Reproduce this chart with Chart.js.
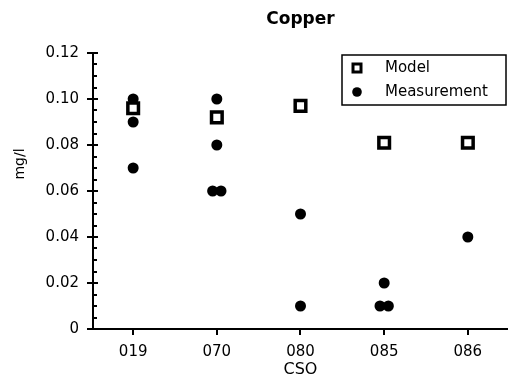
<!DOCTYPE html>
<html>
<head>
<meta charset="utf-8">
<script src="https://cdn.jsdelivr.net/npm/chart.js@4/dist/chart.umd.min.js"></script>
<style>
  html, body { margin: 0; padding: 0; background: #fff; }
  #wrap { width: 508px; height: 387px; }
</style>
</head>
<body>
<div id="wrap"><canvas id="c" width="508" height="387"></canvas></div>
<script>
// Copper concentration per CSO site: model values and field measurements
const categories = ['019', '070', '080', '085', '086'];
const modelValues = [0.096, 0.092, 0.097, 0.081, 0.081];
const measurementSite = ['019', '019', '019', '070', '070', '070', '070', '080', '080', '085', '085', '085', '086'];
const measurementValues = [0.100, 0.090, 0.070, 0.100, 0.080, 0.060, 0.060, 0.050, 0.010, 0.020, 0.010, 0.010, 0.040];
const yTicks = [0, 0.02, 0.04, 0.06, 0.08, 0.10, 0.12];

const chartTitle = 'Copper';
const xTitle = 'CSO';
const yTitle = 'mg/l';

const FONT = '"DejaVu Sans", sans-serif';

// Model points sit on the category centres
const modelPoints = modelValues.map((v, i) => ({ x: i, y: v }));

// Measurements with identical values at one site are dodged sideways so both stay visible
const measurementPoints = (() => {
  const groups = {};
  measurementSite.forEach((s, i) => {
    const key = s + '|' + measurementValues[i].toFixed(4);
    (groups[key] = groups[key] || []).push(i);
  });
  const pts = [];
  Object.values(groups).forEach(idx => {
    const n = idx.length;
    idx.forEach((i, k) => {
      const shift = n > 1 ? (k - (n - 1) / 2) * 0.1 : 0;
      pts.push({ x: categories.indexOf(measurementSite[i]) + shift, y: measurementValues[i] });
    });
  });
  return pts;
})();

// Inner halves of the major y ticks plus minor ticks every 0.005
const axisExtras = {
  id: 'axisExtras',
  afterDraw(chart) {
    const ctx = chart.ctx;
    const y = chart.scales.y;
    const x0 = chart.chartArea.left;
    ctx.save();
    ctx.strokeStyle = '#000';
    ctx.lineWidth = 2;
    for (let k = 0; k <= 24; k++) {
      const v = k * 0.005;
      const py = Math.round(y.getPixelForValue(v));
      const len = (k % 4 === 0) ? 5 : 4;
      ctx.beginPath();
      ctx.moveTo(x0, py);
      ctx.lineTo(x0 + len, py);
      ctx.stroke();
    }
    ctx.restore();
  }
};

// Title, axis titles and boxed legend
const annotations = {
  id: 'annotations',
  afterDraw(chart) {
    const ctx = chart.ctx;
    const a = chart.chartArea;
    const cx = (a.left + a.right) / 2;
    ctx.save();
    ctx.fillStyle = '#000';
    ctx.textAlign = 'center';
    ctx.textBaseline = 'alphabetic';
    ctx.font = 'bold 17px ' + FONT;
    ctx.fillText(chartTitle, cx, 24);
    ctx.font = '16px ' + FONT;
    ctx.fillText(xTitle, cx, 374);
    ctx.save();
    ctx.translate(20, 164);
    ctx.rotate(-Math.PI / 2);
    ctx.textBaseline = 'middle';
    ctx.font = '14px ' + FONT;
    ctx.fillText(yTitle, 0, 0);
    ctx.restore();

    // legend box
    const lw = 164, lh = 50;
    const lx = a.right - lw - 2, ly = a.top + 2;
    ctx.lineWidth = 1.5;
    ctx.strokeStyle = '#000';
    ctx.fillStyle = '#fff';
    ctx.fillRect(lx, ly, lw, lh);
    ctx.strokeRect(lx, ly, lw, lh);
    const ds = chart.data.datasets;
    const rows = [ly + 13, ly + 37];
    ds.forEach((d, i) => {
      const iy = rows[i];
      const ix = lx + 15;
      ctx.save();
      if (d.pointStyle === 'rect') {
        const s = 8;
        ctx.fillStyle = d.backgroundColor;
        ctx.strokeStyle = d.borderColor;
        ctx.lineWidth = 3;
        ctx.fillRect(ix - s / 2, iy - s / 2, s, s);
        ctx.strokeRect(ix - s / 2, iy - s / 2, s, s);
      } else {
        ctx.fillStyle = d.backgroundColor;
        ctx.beginPath();
        ctx.arc(ix, iy, 4.8, 0, Math.PI * 2);
        ctx.fill();
      }
      ctx.restore();
      ctx.fillStyle = '#000';
      ctx.textAlign = 'left';
      ctx.textBaseline = 'middle';
      ctx.font = '15px ' + FONT;
      ctx.fillText(d.label, lx + 43, iy);
    });
    ctx.restore();
  }
};

new Chart(document.getElementById('c'), {
  type: 'scatter',
  data: {
    datasets: [
      {
        label: 'Model',
        data: modelPoints,
        pointStyle: 'rect',
        pointRadius: 7.5,
        pointBorderWidth: 3.5,
        backgroundColor: '#fff',
        borderColor: '#000'
      },
      {
        label: 'Measurement',
        data: measurementPoints,
        pointStyle: 'circle',
        pointRadius: 5.5,
        pointBorderWidth: 0,
        backgroundColor: '#000',
        borderColor: '#000'
      }
    ]
  },
  options: {
    responsive: false,
    animation: false,
    devicePixelRatio: 1,
    layout: { autoPadding: false, padding: { top: 53, right: 0, left: 0, bottom: 0 } },
    plugins: {
      legend: { display: false },
      title: { display: false },
      tooltip: { enabled: false }
    },
    scales: {
      x: {
        type: 'linear',
        min: -0.48,
        max: categories.length - 0.52,
        afterFit(scale) {
          scale.height = 58;
          scale.paddingLeft = 0;
          scale.paddingRight = 0;
        },
        afterBuildTicks(scale) {
          scale.ticks = categories.map((c, i) => ({ value: i }));
        },
        ticks: {
          color: '#000',
          font: { family: FONT, size: 15 },
          padding: 8,
          maxRotation: 0,
          autoSkip: false,
          callback: (v) => categories[v]
        },
        grid: { drawOnChartArea: false, drawTicks: true, tickLength: 6, color: '#000', lineWidth: 2 },
        border: { display: true, color: '#000', width: 2 }
      },
      y: {
        min: 0,
        max: 0.12,
        afterFit(scale) {
          scale.width = 93;
          scale.paddingTop = 0;
          scale.paddingBottom = 0;
        },
        afterBuildTicks(scale) {
          scale.ticks = yTicks.map(v => ({ value: v }));
        },
        ticks: {
          color: '#000',
          font: { family: FONT, size: 15 },
          padding: 8,
          callback: (v) => v === 0 ? '0' : v.toFixed(2)
        },
        grid: { drawOnChartArea: false, drawTicks: true, tickLength: 6, color: '#000', lineWidth: 2 },
        border: { display: true, color: '#000', width: 2 }
      }
    }
  },
  plugins: [axisExtras, annotations]
});
</script>
</body>
</html>
